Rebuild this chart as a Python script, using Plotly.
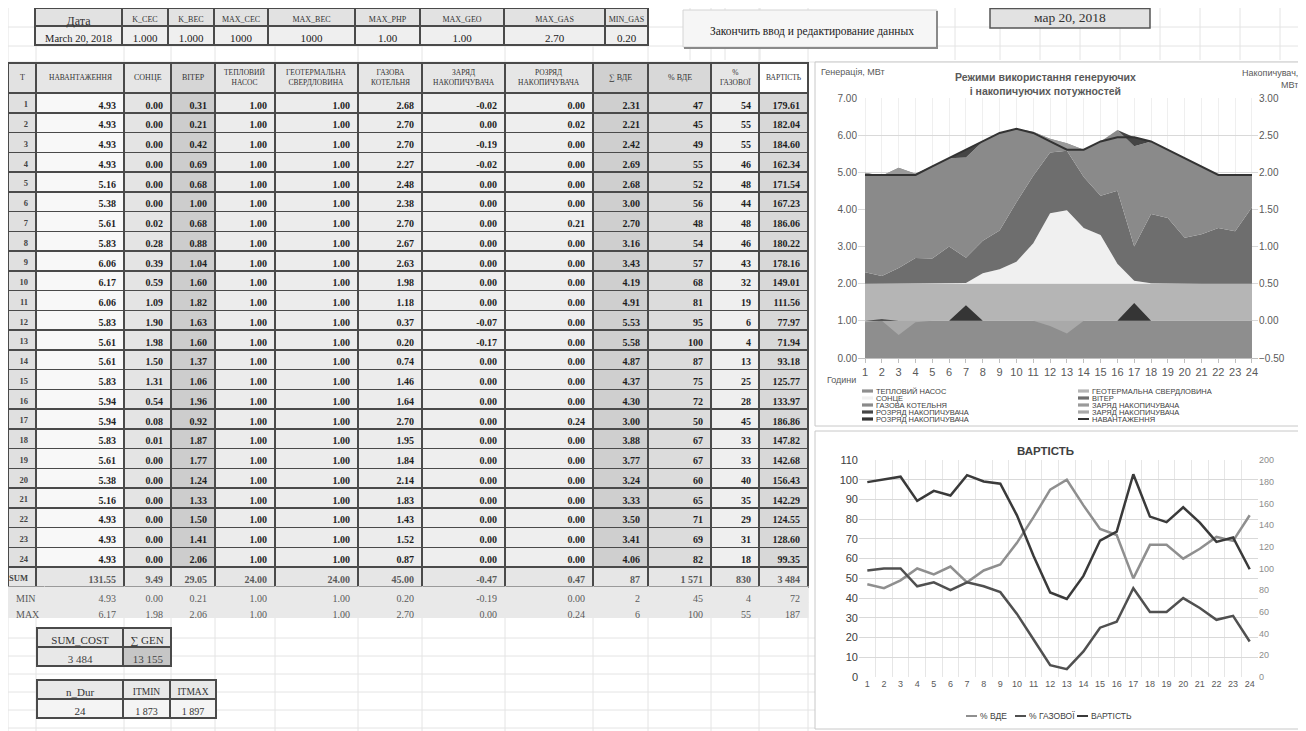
import plotly.graph_objects as go

# page offset: the browser body margin shifts the figure by 8 px
OFF = 8
W, H = 1306 - OFF, 731 - OFF

# ---------------- data ----------------
hours = [1, 2, 3, 4, 5, 6, 7, 8, 9, 10, 11, 12, 13, 14, 15, 16, 17, 18, 19, 20, 21, 22, 23, 24]
load = [4.93, 4.93, 4.93, 4.93, 5.16, 5.38, 5.61, 5.83, 6.06, 6.17, 6.06, 5.83,
        5.61, 5.61, 5.83, 5.94, 5.94, 5.83, 5.61, 5.38, 5.16, 4.93, 4.93, 4.93]
sun = [0.00, 0.00, 0.00, 0.00, 0.00, 0.00, 0.02, 0.28, 0.39, 0.59, 1.09, 1.90,
       1.98, 1.50, 1.31, 0.54, 0.08, 0.01, 0.00, 0.00, 0.00, 0.00, 0.00, 0.00]
wind = [0.31, 0.21, 0.42, 0.69, 0.68, 1.00, 0.68, 0.88, 1.04, 1.60, 1.82, 1.63,
        1.60, 1.37, 1.06, 1.96, 0.92, 1.87, 1.77, 1.24, 1.33, 1.50, 1.41, 2.06]
heat_pump = [1.00, 1.00, 1.00, 1.00, 1.00, 1.00, 1.00, 1.00, 1.00, 1.00, 1.00, 1.00,
             1.00, 1.00, 1.00, 1.00, 1.00, 1.00, 1.00, 1.00, 1.00, 1.00, 1.00, 1.00]
geothermal = [1.00, 1.00, 1.00, 1.00, 1.00, 1.00, 1.00, 1.00, 1.00, 1.00, 1.00, 1.00,
              1.00, 1.00, 1.00, 1.00, 1.00, 1.00, 1.00, 1.00, 1.00, 1.00, 1.00, 1.00]
gas_boiler = [2.68, 2.70, 2.70, 2.27, 2.48, 2.38, 2.70, 2.67, 2.63, 1.98, 1.18, 0.37,
              0.20, 0.74, 1.46, 1.64, 2.70, 1.95, 1.84, 2.14, 1.83, 1.43, 1.52, 0.87]
charge = [-0.02, 0.00, -0.19, -0.02, 0.00, 0.00, 0.00, 0.00, 0.00, 0.00, 0.00, -0.07,
          -0.17, 0.00, 0.00, 0.00, 0.00, 0.00, 0.00, 0.00, 0.00, 0.00, 0.00, 0.00]
discharge = [0.00, 0.02, 0.00, 0.00, 0.00, 0.00, 0.21, 0.00, 0.00, 0.00, 0.00, 0.00,
             0.00, 0.00, 0.00, 0.00, 0.24, 0.00, 0.00, 0.00, 0.00, 0.00, 0.00, 0.00]
res_sum = [2.31, 2.21, 2.42, 2.69, 2.68, 3.00, 2.70, 3.16, 3.43, 4.19, 4.91, 5.53,
           5.58, 4.87, 4.37, 4.30, 3.00, 3.88, 3.77, 3.24, 3.33, 3.50, 3.41, 4.06]
res_pct = [47, 45, 49, 55, 52, 56, 48, 54, 57, 68, 81, 95,
           100, 87, 75, 72, 50, 67, 67, 60, 65, 71, 69, 82]
gas_pct = [54, 55, 55, 46, 48, 44, 48, 46, 43, 32, 19, 6,
           4, 13, 25, 28, 45, 33, 33, 40, 35, 29, 31, 18]
cost = [179.61, 182.04, 184.60, 162.34, 171.54, 167.23, 186.06, 180.22, 178.16, 149.01, 111.56, 77.97,
        71.94, 93.18, 125.77, 133.97, 186.86, 147.82, 142.68, 156.43, 142.29, 124.55, 128.6, 99.35]

main_headers = ["T", "НАВАНТАЖЕННЯ", "СОНЦЕ", "ВІТЕР", "ТЕПЛОВИЙ<br>НАСОС", "ГЕОТЕРМАЛЬНА<br>СВЕРДЛОВИНА",
                "ГАЗОВА<br>КОТЕЛЬНЯ", "ЗАРЯД<br>НАКОПИЧУВАЧА", "РОЗРЯД<br>НАКОПИЧУВАЧА", "∑ ВДЕ", "% ВДЕ",
                "%<br>ГАЗОВОЇ", "ВАРТІСТЬ"]
sum_row = ["SUM", "131.55", "9.49", "29.05", "24.00", "24.00", "45.00", "-0.47", "0.47", "87", "1 571", "830", "3 484"]
min_row = ["MIN", "4.93", "0.00", "0.21", "1.00", "1.00", "0.20", "-0.19", "0.00", "2", "45", "4", "72"]
max_row = ["MAX", "6.17", "1.98", "2.06", "1.00", "1.00", "2.70", "0.00", "0.24", "6", "100", "55", "187"]

top_headers = ["Дата", "K_CEC", "K_BEC", "MAX_CEC", "MAX_BEC", "MAX_PHP", "MAX_GEO", "MAX_GAS", "MIN_GAS"]
top_values = ["March 20, 2018", "1.000", "1.000", "1000", "1000", "1.00", "1.00", "2.70", "0.20"]

cost_headers = ["SUM_COST", "∑ GEN"]
cost_values = ["3 484", "13 155"]
dur_headers = ["n_Dur", "ITMIN", "ITMAX"]
dur_values = ["24", "1 873", "1 897"]

button_label = "Закончить ввод и редактирование данных"
date_label = "мар 20, 2018"

area_series = [
    ("ТЕПЛОВИЙ НАСОС", heat_pump),
    ("ГЕОТЕРМАЛЬНА СВЕРДЛОВИНА", geothermal),
    ("СОНЦЕ", sun),
    ("ВІТЕР", wind),
    ("ГАЗОВА КОТЕЛЬНЯ", gas_boiler),
    ("ЗАРЯД НАКОПИЧУВАЧА", charge),
    ("РОЗРЯД НАКОПИЧУВАЧА", discharge),
]

# ---------------- helpers / styles ----------------
def fx(px):
    return max(0.0, (px - OFF) / W)

def fy(py):
    return min(1.0, 1 - (py - OFF) / H)

def nb(s):
    return s.replace(" ", "\u00a0")

SERIF = "Liberation Serif"
SANS = "Liberation Sans"
BORDER = "#4a4a4a"

area_colors = ["#8e8e8e", "#b5b5b5", "#f0f0f0", "#6e6e6e", "#8a8a8a", "#9a9a9a", "#454545"]
charge2_color = "#a9a9a9"
discharge2_color = "#353535"
load_color = "#333333"
line_colors = {"res": "#8f8f8f", "gas": "#505050", "cost": "#3a3a3a"}

fig = go.Figure()
shapes = []
annotations = []

# ---------- spreadsheet gridlines (background) ----------
grid_c = "#e4e4e4"
col_edges = [8, 36, 124, 171, 215, 275, 358, 422, 505, 593, 648, 711, 759, 808]
for xe in col_edges:
    shapes.append(dict(type="line", xref="paper", yref="paper", x0=fx(xe), x1=fx(xe), y0=0, y1=1,
                       line=dict(color=grid_c, width=1), layer="below"))
for xe in [690, 725, 760, 955, 1000, 1040, 1080, 1120, 1160, 1200, 1240, 1280]:
    shapes.append(dict(type="line", xref="paper", yref="paper", x0=fx(xe), x1=fx(xe), y0=fy(60), y1=1,
                       line=dict(color=grid_c, width=1), layer="below"))
for ye in [27, 46, 62]:
    shapes.append(dict(type="line", xref="paper", yref="paper", x0=0, x1=1, y0=fy(ye), y1=fy(ye),
                       line=dict(color=grid_c, width=1), layer="below"))
for ye in [638, 656, 674, 692, 710, 728]:
    shapes.append(dict(type="line", xref="paper", yref="paper", x0=0, x1=fx(815), y0=fy(ye), y1=fy(ye),
                       line=dict(color=grid_c, width=1), layer="below"))

# chart boxes (white)
for (x0, y0, x1, y1) in [(815, 62, 1301, 426), (815, 431, 1301, 729)]:
    shapes.append(dict(type="rect", xref="paper", yref="paper", x0=fx(x0), x1=fx(x1), y0=fy(y1), y1=fy(y0),
                       fillcolor="white", line=dict(color="#c8c8c8", width=1), layer="below"))

# ---------- top parameter table ----------
top_edges = [35, 122, 168, 214, 268, 355, 420, 504, 605, 648]
top_w = [top_edges[i + 1] - top_edges[i] for i in range(len(top_edges) - 1)]
fig.add_trace(go.Table(
    domain=dict(x=[fx(top_edges[0]), fx(top_edges[-1])], y=[fy(52), fy(8)]),
    columnwidth=top_w,
    header=dict(values=top_headers, height=18, fill_color="#e2e2e2",
                line=dict(color=BORDER, width=1.5), align="center",
                font=dict(family=SERIF, size=[12, 8, 8, 8, 8, 8, 8, 8, 8], color="#333333")),
    cells=dict(values=[[nb(v)] for v in top_values], height=19, fill_color="#efefef",
               line=dict(color=BORDER, width=1.5), align="center",
               font=dict(family=SERIF, size=[10.5, 11, 11, 11, 11, 11, 11, 11, 11], color="#222222")),
))

# ---------- main table ----------
def f2(vals):
    return ["%.2f" % v for v in vals]

def f0(vals):
    return ["%d" % v for v in vals]

main_cols = [
    [str(h) for h in hours], f2(load), f2(sun), f2(wind), f2(heat_pump), f2(geothermal), f2(gas_boiler),
    f2(charge), f2(discharge), f2(res_sum), f0(res_pct), f0(gas_pct), f2(cost),
]
main_cols = [col + [nb(s)] for col, s in zip(main_cols, sum_row)]
n_rows = len(hours) + 1
main_w = [col_edges[i + 1] - col_edges[i] for i in range(len(col_edges) - 1)]
col_fill = ["#e0e0e0", "#f8f8f8", "#e4e4e4", "#cdcdcd", "#ececec", "#ececec", "#ececec",
            "#eeeeee", "#eeeeee", "#cfcfcf", "#dcdcdc", "#efefef", "#d8d8d8"]
cell_fills = [[c] * (n_rows - 1) + ["#e6e6e6"] for c in col_fill]
cell_font_colors = [["#444444"] * n_rows] + [["#1e1e1e"] * (n_rows - 1) + ["#5a5a5a"] for _ in col_fill[1:]]
head_fills = ["#e2e2e2", "#e6e6e6", "#e6e6e6", "#d6d6d6", "#e6e6e6", "#e6e6e6", "#e6e6e6",
              "#e6e6e6", "#e6e6e6", "#d0d0d0", "#d8d8d8", "#e6e6e6", "#ffffff"]
ROW_H = 19.75
HEAD_H = 30
TABLE_TOP = 63
fig.add_trace(go.Table(
    domain=dict(x=[fx(col_edges[0]), fx(col_edges[-1])], y=[fy(615), fy(TABLE_TOP)]),
    columnwidth=main_w,
    header=dict(values=["" for _ in main_headers], height=HEAD_H, fill_color=head_fills,
                line=dict(color=BORDER, width=1.5)),
    cells=dict(values=main_cols, height=ROW_H, fill_color=cell_fills,
               line=dict(color=BORDER, width=1.5), align="right",
               font=dict(family=SERIF, size=[8.5] + [10] * 12, color=cell_font_colors, weight="bold")),
))
for i, lab in enumerate(main_headers):
    cx = (col_edges[i] + col_edges[i + 1]) / 2
    annotations.append(dict(x=fx(cx), y=fy(TABLE_TOP + HEAD_H / 2), xref="paper", yref="paper", text=lab,
                            showarrow=False, xanchor="center", yanchor="middle", align="center",
                            font=dict(family=SERIF, size=7.5 if "<br>" in lab or len(lab) > 6 else 8,
                                      color="#333333")))

# MIN / MAX rows (no borders); first column wider so the labels fit
mm_top = TABLE_TOP + HEAD_H + n_rows * ROW_H
mm_edges = [8, 44] + col_edges[2:]
mm_w = [mm_edges[i + 1] - mm_edges[i] for i in range(len(mm_edges) - 1)]
fig.add_trace(go.Table(
    domain=dict(x=[fx(mm_edges[0]), fx(mm_edges[-1])], y=[fy(mm_top + 36), fy(mm_top)]),
    columnwidth=mm_w,
    header=dict(values=[nb(v) for v in min_row], height=15.5, fill_color="#e9e9e9",
                line=dict(color="#e9e9e9", width=0.5), align=["left"] + ["right"] * 12,
                font=dict(family=SERIF, size=10, color="#5a5a5a")),
    cells=dict(values=[[nb(v)] for v in max_row], height=15.5, fill_color="#e9e9e9",
               line=dict(color="#e9e9e9", width=0.5), align=["left"] + ["right"] * 12,
               font=dict(family=SERIF, size=10, color="#5a5a5a")),
))

# ---------- small tables ----------
fig.add_trace(go.Table(
    domain=dict(x=[fx(37), fx(171)], y=[fy(672), fy(628)]),
    columnwidth=[86, 48],
    header=dict(values=[nb(v) for v in cost_headers], height=19, fill_color=["#e6e6e6", "#e6e6e6"],
                line=dict(color=BORDER, width=1.5), align="center",
                font=dict(family=SERIF, size=11, color="#333333")),
    cells=dict(values=[[nb(v)] for v in cost_values], height=19, fill_color=["#e8e8e8", "#c6c6c6"],
               line=dict(color=BORDER, width=1.5), align=["center", "right"],
               font=dict(family=SERIF, size=11, color="#444444")),
))
fig.add_trace(go.Table(
    domain=dict(x=[fx(37), fx(216)], y=[fy(724), fy(680)]),
    columnwidth=[86, 47, 46],
    header=dict(values=dur_headers, height=19, fill_color="#e8e8e8",
                line=dict(color=BORDER, width=1.5), align="center",
                font=dict(family=SERIF, size=[11, 9.5, 9.5], color="#333333")),
    cells=dict(values=[[nb(v)] for v in dur_values], height=19, fill_color="#f4f4f4",
               line=dict(color=BORDER, width=1.5), align="center",
               font=dict(family=SERIF, size=[11, 10, 10], color="#333333")),
))

# ---------- button & date box ----------
shapes.append(dict(type="rect", xref="paper", yref="paper", x0=fx(683), x1=fx(937), y0=fy(47), y1=fy(10),
                   fillcolor="#f6f6f6", line=dict(color="#d4d4d4", width=1)))
shapes.append(dict(type="line", xref="paper", yref="paper", x0=fx(937), x1=fx(937), y0=fy(48), y1=fy(11),
                   line=dict(color="#8a8a8a", width=2)))
shapes.append(dict(type="line", xref="paper", yref="paper", x0=fx(684), x1=fx(938), y0=fy(48), y1=fy(48),
                   line=dict(color="#8a8a8a", width=2)))
annotations.append(dict(x=fx(812), y=fy(31), xref="paper", yref="paper", text=button_label, showarrow=False,
                        xanchor="center", yanchor="middle",
                        font=dict(family=SERIF, size=11.5, color="#222222")))
shapes.append(dict(type="rect", xref="paper", yref="paper", x0=fx(990), x1=fx(1150), y0=fy(28), y1=fy(8.5),
                   fillcolor="#e2e2e2", line=dict(color="#555555", width=1.5)))
annotations.append(dict(x=fx(1070), y=fy(18), xref="paper", yref="paper", text=date_label, showarrow=False,
                        xanchor="center", yanchor="middle",
                        font=dict(family=SERIF, size=13.5, color="#333333")))

# ---------- chart 1: stacked areas ----------
for (name, vals), col in zip(area_series, area_colors):
    fig.add_trace(go.Scatter(x=hours, y=vals, name=name, stackgroup="gen", mode="lines",
                             line=dict(width=0), fillcolor=col, xaxis="x", yaxis="y",
                             showlegend=False, hoverinfo="skip"))
fig.add_trace(go.Scatter(x=hours, y=load, name="НАВАНТАЖЕННЯ", mode="lines",
                         line=dict(color=load_color, width=2), xaxis="x", yaxis="y", showlegend=False))
fig.add_trace(go.Scatter(x=hours, y=charge, name="ЗАРЯД НАКОПИЧУВАЧА", mode="lines", fill="tozeroy",
                         line=dict(width=0), fillcolor=charge2_color, xaxis="x", yaxis="y2", showlegend=False))
fig.add_trace(go.Scatter(x=hours, y=discharge, name="РОЗРЯД НАКОПИЧУВАЧА", mode="lines", fill="tozeroy",
                         line=dict(width=0), fillcolor=discharge2_color, xaxis="x", yaxis="y2", showlegend=False))

# ---------- chart 2: lines ----------
fig.add_trace(go.Scatter(x=hours, y=res_pct, name="% ВДЕ", mode="lines",
                         line=dict(color=line_colors["res"], width=2.5), xaxis="x2", yaxis="y3", showlegend=False))
fig.add_trace(go.Scatter(x=hours, y=gas_pct, name="% ГАЗОВОЇ", mode="lines",
                         line=dict(color=line_colors["gas"], width=2.5), xaxis="x2", yaxis="y3", showlegend=False))
fig.add_trace(go.Scatter(x=hours, y=cost, name="ВАРТІСТЬ", mode="lines",
                         line=dict(color=line_colors["cost"], width=2.5), xaxis="x2", yaxis="y4", showlegend=False))

# ---------- chart annotations ----------
ax_font = dict(family=SANS, size=10, color="#595959")
annotations += [
    dict(x=fx(819), y=fy(72), xref="paper", yref="paper", text="Генерація, МВт", showarrow=False,
         xanchor="left", yanchor="middle", font=dict(family=SANS, size=9, color="#595959")),
    dict(x=fx(1300), y=fy(79), xref="paper", yref="paper", text="Накопичувач,<br>МВт", showarrow=False,
         xanchor="right", yanchor="middle", align="right", font=dict(family=SANS, size=9, color="#595959")),
    dict(x=fx(1045), y=fy(84), xref="paper", yref="paper",
         text="<b>Режими використання генеруючих<br>і накопичуючих потужностей</b>", showarrow=False,
         xanchor="center", yanchor="middle", font=dict(family=SANS, size=10.5, color="#595959")),
    dict(x=fx(858), y=fy(380), xref="paper", yref="paper", text="Години", showarrow=False,
         xanchor="right", yanchor="middle", font=dict(family=SANS, size=9, color="#595959")),
    dict(x=fx(1045), y=fy(451), xref="paper", yref="paper", text="<b>ВАРТІСТЬ</b>", showarrow=False,
         xanchor="center", yanchor="middle", font=dict(family=SANS, size=11.5, color="#404040")),
]

# legend chart 1 (two columns)
leg1 = [
    ("ТЕПЛОВИЙ НАСОС", area_colors[0], "rect"), ("ГЕОТЕРМАЛЬНА СВЕРДЛОВИНА", area_colors[1], "rect"),
    ("СОНЦЕ", area_colors[2], "rect"), ("ВІТЕР", area_colors[3], "rect"),
    ("ГАЗОВА КОТЕЛЬНЯ", area_colors[4], "rect"), ("ЗАРЯД НАКОПИЧУВАЧА", area_colors[5], "rect"),
    ("РОЗРЯД НАКОПИЧУВАЧА", area_colors[6], "rect"), ("ЗАРЯД НАКОПИЧУВАЧА", charge2_color, "rect"),
    ("РОЗРЯД НАКОПИЧУВАЧА", discharge2_color, "rect"), ("НАВАНТАЖЕННЯ", load_color, "line"),
]

def legend_item(xk, yc, label, color, kind, size=7.5):
    if kind == "rect":
        shapes.append(dict(type="rect", xref="paper", yref="paper", x0=fx(xk), x1=fx(xk + 11),
                           y0=fy(yc + 1.6), y1=fy(yc - 1.6), fillcolor=color, line=dict(width=0)))
    else:
        shapes.append(dict(type="line", xref="paper", yref="paper", x0=fx(xk), x1=fx(xk + 11),
                           y0=fy(yc), y1=fy(yc), line=dict(color=color, width=2)))
    annotations.append(dict(x=fx(xk + 12), y=fy(yc), xref="paper", yref="paper", text=label,
                            showarrow=False, xanchor="left", yanchor="middle",
                            font=dict(family=SANS, size=size, color="#404040")))

for i, (lab, col, kind) in enumerate(leg1):
    row, c = divmod(i, 2)
    legend_item(862 if c == 0 else 1078, 391 + row * 7, lab, col, kind)

leg2 = [("% ВДЕ", line_colors["res"], 966), ("% ГАЗОВОЇ", line_colors["gas"], 1015),
        ("ВАРТІСТЬ", line_colors["cost"], 1077)]
for lab, col, xk in leg2:
    legend_item(xk, 716, lab, col, "line", size=8.5)

# ---------- layout ----------
fig.update_layout(
    width=W, height=H, margin=dict(l=0, r=0, t=0, b=0, pad=0, autoexpand=False),
    paper_bgcolor="white", plot_bgcolor="white", showlegend=False,
    shapes=shapes, annotations=annotations,
    xaxis=dict(domain=[fx(858), fx(1258)], anchor="y", range=[0.584, 24.357], tickvals=hours,
               ticks="outside", ticklen=4, tickcolor="#bfbfbf", showline=True, linecolor="#bfbfbf",
               showgrid=True, gridcolor="#efefef", zeroline=False, automargin=False,
               tickfont=dict(family=SANS, size=11, color="#595959")),
    yaxis=dict(domain=[fy(358), fy(98)], anchor="x", range=[0, 7], dtick=1, tickformat=".2f",
               gridcolor="#d9d9d9", zeroline=False, tickfont=ax_font, automargin=False),
    yaxis2=dict(overlaying="y", anchor="x", side="right", range=[-0.5, 3], dtick=0.5, tickformat=".2f",
                showgrid=False, zeroline=False, tickfont=ax_font, automargin=False),
    xaxis2=dict(domain=[fx(859), fx(1258)], anchor="y3", range=[0.5, 24.5], tickvals=hours,
                showgrid=False, zeroline=False, showline=False, ticks="", automargin=False,
                minor=dict(tickvals=[k + 0.5 for k in range(0, 25)], showgrid=True, gridcolor="#e6e6e6"),
                tickfont=dict(family=SANS, size=9, color="#595959")),
    yaxis3=dict(domain=[fy(677), fy(460)], anchor="x2", range=[0, 110], dtick=10, automargin=False,
                gridcolor="#d9d9d9", zeroline=False, tickfont=dict(family=SANS, size=11, color="#404040")),
    yaxis4=dict(overlaying="y3", anchor="x2", side="right", range=[0, 200], dtick=20, automargin=False,
                showgrid=False, zeroline=False, tickfont=dict(family=SANS, size=9, color="#8c8c8c")),
)

fig.write_html("out.html")
